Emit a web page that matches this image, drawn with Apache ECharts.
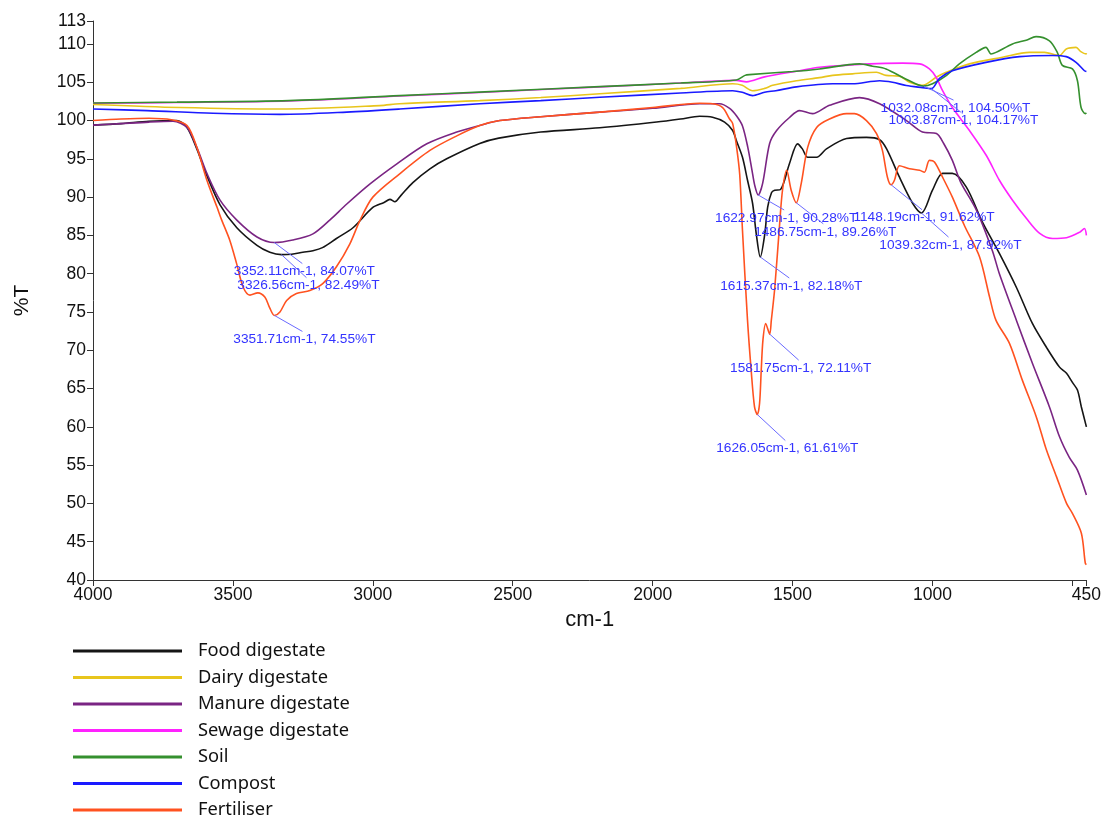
<!DOCTYPE html>
<html>
<head>
<meta charset="utf-8">
<title>FTIR spectra</title>
<script src="https://cdn.jsdelivr.net/npm/echarts@6/dist/echarts.min.js"></script>
<style>
  html, body { margin: 0; padding: 0; background: #ffffff; }
  #chart { width: 1104px; height: 817px; }
</style>
</head>
<body>
<div id="chart"></div>
<script>
// ---- Spectra: [wavenumber (cm-1), transmittance (%T)] ----
const seriesNames = ['Food digestate', 'Dairy digestate', 'Manure digestate', 'Sewage digestate', 'Soil', 'Compost', 'Fertiliser'];

const foodDigestate = [
  [4000, 99.4], [3900, 99.6], [3800, 99.9], [3700, 100.0], [3664, 99.1], [3629, 96.3], [3593, 92.8],
  [3546, 89.0], [3486, 86.0], [3414, 83.7], [3368, 82.8], [3326.56, 82.49], [3290, 82.55], [3250, 82.8],
  [3214, 83.0], [3180, 83.4], [3130, 84.6], [3071, 86.0], [3000, 88.65], [2960, 89.3], [2939, 89.7],
  [2921, 89.4], [2900, 90.2], [2857, 91.9], [2796, 93.7], [2736, 95.0], [2618, 97.0], [2550, 97.7],
  [2400, 98.5], [2189, 99.05], [1986, 99.8], [1900, 100.2], [1832, 100.56], [1786, 100.43], [1743, 99.8],
  [1714, 98.7], [1701, 97.4], [1679, 95.2], [1661, 92.2], [1643, 89.2], [1629, 85.0], [1615.37, 82.18],
  [1600, 85.0], [1589, 88.7], [1575, 90.6], [1564, 90.9], [1543, 91.0], [1511, 94.4], [1482, 96.96],
  [1465, 96.3], [1446, 95.2], [1414, 95.2], [1379, 96.3], [1307, 97.65], [1236, 97.8], [1189, 97.5],
  [1164, 96.3], [1118, 92.6], [1071, 89.2], [1039.32, 87.92], [1000, 90.9], [964, 93.1], [929, 93.1],
  [879, 91.3], [821, 86.7], [761, 82.65], [700, 78.2], [643, 73.5], [593, 70.4], [546, 67.8],
  [521, 67.0], [500, 65.8], [482, 64.8], [468, 62.6], [450, 60.0]
];

const dairyDigestate = [
  [4000, 102.1], [3689, 101.7], [3332, 101.5], [2975, 101.95], [2904, 102.2], [2618, 102.6], [2400, 103.0],
  [2189, 103.5], [1900, 104.2], [1714, 104.8], [1680, 104.6], [1643, 103.9], [1600, 104.2], [1571, 104.6],
  [1486, 105.2], [1404, 105.6], [1357, 105.9], [1286, 106.1], [1200, 106.3], [1166, 105.9], [1118, 105.8],
  [1082, 105.0], [1036, 104.6], [987, 105.65], [951, 106.3], [868, 107.4], [750, 108.26], [654, 108.9],
  [600, 108.9], [546, 108.5], [522, 109.35], [487, 109.56], [470, 109.0], [451, 108.7], [450, 108.8]
];

const manureDigestate = [
  [4000, 99.4], [3900, 99.6], [3800, 99.8], [3714, 99.9], [3664, 99.1], [3629, 96.5], [3593, 93.1],
  [3546, 89.6], [3486, 87.0], [3414, 84.8], [3352.11, 84.07], [3286, 84.4], [3214, 85.2], [3154, 87.0],
  [3093, 89.1], [3011, 91.7], [2914, 94.35], [2807, 96.96], [2700, 98.5], [2618, 99.35], [2546, 100.0],
  [2400, 100.5], [2189, 101.1], [2000, 101.6], [1832, 102.2], [1761, 102.2], [1725, 101.6], [1700, 100.6],
  [1679, 99.3], [1660, 96.5], [1645, 93.5], [1635, 91.5], [1622.97, 90.28], [1607, 91.8], [1582, 97.0],
  [1557, 98.7], [1511, 100.4], [1475, 101.3], [1429, 100.9], [1368, 102.0], [1261, 103.0], [1189, 102.2],
  [1093, 100.0], [1036, 98.5], [986, 98.3], [960, 97.0], [929, 94.8], [900, 92.0], [843, 88.3],
  [786, 83.0], [761, 80.0], [700, 73.9], [643, 68.3], [582, 62.6], [546, 58.7], [511, 56.0],
  [482, 54.35], [450, 51.1]
];

const sewageDigestate = [
  [4000, 102.25], [3700, 102.35], [3300, 102.55], [2904, 103.2], [2600, 103.7], [2189, 104.4], [1900, 104.9],
  [1701, 105.25], [1665, 105.05], [1600, 105.7], [1475, 106.5], [1404, 106.95], [1225, 107.4], [1107, 107.5],
  [1046, 107.4], [1011, 106.74], [987, 105.65], [964, 103.9], [929, 101.7], [868, 98.7], [807, 95.4],
  [761, 92.2], [714, 89.6], [664, 87.2], [618, 85.3], [571, 84.6], [521, 84.7],
  [475, 85.4], [457, 85.9], [450, 85.0]
];

const soil = [
  [4000, 102.3], [3700, 102.4], [3300, 102.6], [2904, 103.26], [2600, 103.75], [2189, 104.43], [1900, 104.9],
  [1701, 105.3], [1670, 105.9], [1654, 106.0], [1500, 106.4], [1404, 106.74], [1261, 107.4], [1214, 107.1],
  [1166, 106.74], [1094, 105.4], [1032.08, 104.5], [1000, 104.8], [951, 105.87], [904, 107.4], [844, 108.9],
  [809, 109.56], [791, 108.7], [773, 108.9], [714, 110.0], [665, 110.5], [630, 110.96], [582, 110.4],
  [554, 108.9], [536, 107.2], [500, 106.74], [482, 105.2], [469, 101.7], [454, 100.9], [450, 101.0]
];

const compost = [
  [4000, 101.5], [3807, 101.3], [3571, 100.95], [3332, 100.8], [3093, 101.1], [2904, 101.5], [2618, 102.2],
  [2400, 102.6], [2189, 103.04], [1900, 103.6], [1714, 103.9], [1680, 103.7], [1643, 103.26], [1600, 103.7],
  [1560, 103.9], [1486, 104.4], [1357, 104.8], [1286, 104.8], [1189, 105.2], [1143, 105.0], [1094, 104.57],
  [1036, 104.3], [1003.87, 104.17], [975, 105.5], [929, 106.5], [809, 107.6], [689, 108.35], [571, 108.5],
  [522, 108.35], [487, 107.6], [457, 106.5], [450, 106.4]
];

const fertiliser = [
  [4000, 100.0], [3900, 100.2], [3800, 100.3], [3720, 100.1], [3664, 99.35], [3629, 96.5], [3593, 92.2],
  [3557, 88.7], [3540, 87.0], [3511, 84.35], [3487, 81.35], [3464, 78.3], [3439, 77.2], [3411, 77.5],
  [3386, 76.95], [3368, 75.5], [3351.71, 74.55], [3332, 75.0], [3308, 76.5], [3273, 77.4], [3225, 77.8],
  [3179, 78.7], [3130, 80.9], [3082, 83.9], [3046, 86.96], [3000, 90.0], [2904, 93.05], [2796, 96.1],
  [2700, 98.0], [2618, 99.35], [2546, 100.0], [2400, 100.5], [2189, 101.1], [2000, 101.7], [1832, 102.26],
  [1786, 102.2], [1750, 101.7], [1725, 100.2], [1714, 99.6], [1700, 96.5], [1689, 93.0], [1679, 85.65],
  [1661, 73.9], [1648, 67.4], [1636, 62.6], [1626.05, 61.61], [1618, 63.05], [1612, 67.4], [1606, 71.3],
  [1596, 73.5], [1581.75, 72.11], [1576, 73.9], [1564, 78.0], [1546, 86.6], [1536, 90.9], [1521, 93.5],
  [1505, 90.9], [1486.75, 89.26], [1469, 91.8], [1446, 96.5], [1414, 99.1], [1368, 100.2], [1307, 100.9],
  [1279, 100.9], [1236, 100.0], [1200, 98.3], [1179, 96.1], [1161, 92.6], [1148.19, 91.62], [1136, 92.2],
  [1118, 94.1], [1082, 93.7], [1046, 93.5], [1029, 93.25], [1011, 94.8], [993, 94.6], [964, 92.6],
  [929, 90.0], [886, 86.3], [832, 82.2], [796, 76.95], [773, 73.9], [725, 70.9], [679, 66.1],
  [629, 61.3], [593, 57.0], [557, 53.5], [521, 50.0], [500, 48.7], [468, 46.1], [454, 42.2], [450, 42.0]
];

// Picked peaks: [wavenumber, %T]
const peakLabels = [
  [3352.11, 84.07], [3326.56, 82.49], [3351.71, 74.55],
  [1622.97, 90.28], [1486.75, 89.26], [1148.19, 91.62], [1039.32, 87.92],
  [1615.37, 82.18], [1581.75, 72.11], [1626.05, 61.61],
  [1032.08, 104.50], [1003.87, 104.17]
];

// Axis ticks and labels
const yTickValues = [40, 45, 50, 55, 60, 65, 70, 75, 80, 85, 90, 95, 100, 105, 110, 113];
const xTickValues = [4000, 3500, 3000, 2500, 2000, 1500, 1000, 500, 450];
const xLabelValues = [4000, 3500, 3000, 2500, 2000, 1500, 1000, 450];

// ---- Presentation ----
const palette = ['#151515', '#e8c51c', '#7a2583', '#ff22ff', '#35902e', '#1a1aff', '#ff5220'];
// pixel offset of each peak label's centre from its peak
const peakLabelOffsets = [
  [30, 29], [27, 31], [30, 24],
  [28, 23], [29, 29], [33, 33], [29, 32],
  [31, 29], [31, 34], [30, 34],
  [32, 22], [32, 32]
];

const spectra = [foodDigestate, dairyDigestate, manureDigestate, sewageDigestate, soil, compost, fertiliser];
const axisFont = '"Liberation Sans", Arial, sans-serif';

const chart = echarts.init(document.getElementById('chart'), null, { renderer: 'canvas' });

const lineSeries = spectra.map((data, i) => ({
  name: seriesNames[i],
  type: 'line',
  data: data,
  showSymbol: false,
  symbol: 'none',
  smooth: 0.3,
  lineStyle: { width: 1.6, color: palette[i] },
  itemStyle: { color: palette[i] },
  emphasis: { disabled: true },
  silent: true,
  z: 2 + i
}));

const peakSeries = {
  type: 'custom',
  data: peakLabels,
  encode: { x: 0, y: 1 },
  silent: true,
  clip: false,
  z: 20,
  renderItem: function (params, api) {
    const w = api.value(0);
    const t = api.value(1);
    const p = api.coord([w, t]);
    const off = peakLabelOffsets[params.dataIndex];
    const cx = p[0] + off[0];
    const cy = p[1] + off[1];
    return {
      type: 'group',
      children: [
        {
          type: 'line',
          shape: { x1: p[0], y1: p[1], x2: cx - 2, y2: cy - 8 },
          style: { stroke: '#6a6aff', lineWidth: 1 }
        },
        {
          type: 'text',
          x: cx,
          y: cy,
          style: {
            text: w.toFixed(2) + 'cm-1, ' + t.toFixed(2) + '%T',
            fill: '#3434ff',
            fontSize: 13.7,
            fontFamily: axisFont,
            align: 'center',
            verticalAlign: 'middle'
          }
        }
      ]
    };
  }
};

chart.setOption({
  animation: false,
  backgroundColor: '#ffffff',
  color: palette,
  grid: { left: 93, right: 17, top: 21, bottom: 237, containLabel: false },
  xAxis: {
    type: 'value',
    min: 450,
    max: 4000,
    inverse: true,
    name: 'cm-1',
    nameLocation: 'middle',
    nameGap: 27,
    nameTextStyle: { fontFamily: axisFont, fontSize: 22, color: '#111' },
    axisLine: { show: true, onZero: false, lineStyle: { color: '#333', width: 1 } },
    axisTick: { show: true, length: 6, customValues: xTickValues, lineStyle: { color: '#333' } },
    axisLabel: {
      customValues: xLabelValues,
      formatter: (v) => String(v),
      fontFamily: axisFont, fontSize: 17.5, color: '#111', margin: 6
    },
    splitLine: { show: false }
  },
  yAxis: {
    type: 'value',
    min: 40,
    max: 113,
    name: '%T',
    nameLocation: 'middle',
    nameGap: 60,
    nameRotate: 90,
    nameTextStyle: { fontFamily: axisFont, fontSize: 21, color: '#111' },
    axisLine: { show: true, onZero: false, lineStyle: { color: '#333', width: 1 } },
    axisTick: { show: true, length: 6, customValues: yTickValues, lineStyle: { color: '#333' } },
    axisLabel: {
      customValues: yTickValues,
      formatter: (v) => String(v),
      fontFamily: axisFont, fontSize: 17.5, color: '#111', margin: 7
    },
    splitLine: { show: false }
  },
  legend: {
    orient: 'vertical',
    left: 68,
    top: 636,
    height: 220,
    icon: 'rect',
    itemWidth: 109,
    itemHeight: 3,
    itemGap: 6.5,
    selectedMode: false,
    data: seriesNames,
    textStyle: {
      fontFamily: '"Noto Sans", "Open Sans", sans-serif',
      fontSize: 18.3,
      lineHeight: 20,
      color: '#111',
      padding: [0, 0, 0, 11]
    }
  },
  series: lineSeries.concat([peakSeries])
});
</script>
</body>
</html>
